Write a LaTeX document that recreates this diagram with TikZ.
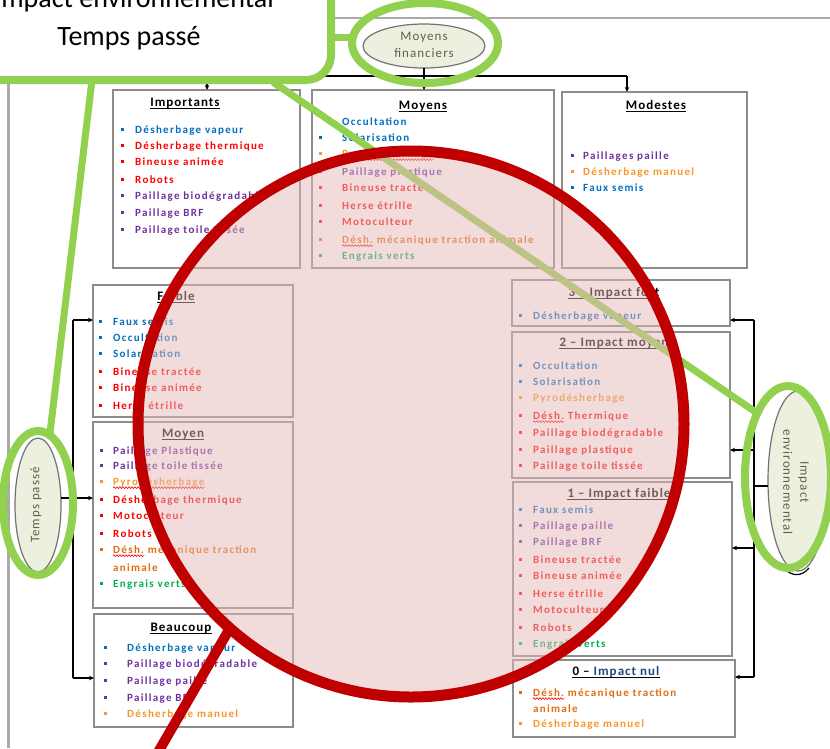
\documentclass[tikz,border=0pt]{standalone}
\usepackage{fontspec}
\setmainfont{Carlito}
\usetikzlibrary{arrows.meta,shapes.geometric,decorations.pathmorphing}
\definecolor{blueT}{RGB}{0,112,192}
\definecolor{redT}{RGB}{255,0,0}
\definecolor{purpleT}{RGB}{112,48,160}
\definecolor{orangeL}{RGB}{250,150,40}
\definecolor{orangeD}{RGB}{228,108,10}
\definecolor{greenT}{RGB}{0,176,80}
\definecolor{boxgray}{RGB}{140,140,140}
\definecolor{framegray}{RGB}{170,170,170}
\definecolor{annogreen}{RGB}{146,208,80}
\definecolor{annored}{RGB}{192,0,0}
\definecolor{pinkF}{RGB}{229,185,185}
\definecolor{ellfill}{RGB}{235,241,222}
\definecolor{elltext}{RGB}{95,95,80}
\definecolor{titleBlue}{RGB}{31,73,125}
\newfontfamily\itmface[LetterSpace=12]{Carlito}
\newfontfamily\ttlface[LetterSpace=8]{Carlito}
\newfontfamily\ellface[LetterSpace=8]{Carlito}
\newcommand\itmfont{\itmface\fontsize{11}{13}\selectfont\bfseries}
\newcommand\ttlfont{\ttlface\fontsize{13}{15}\selectfont\bfseries}
\newcommand\ellfont{\ellface\fontsize{13}{17}\selectfont}
\newcommand\Itm[6]{\fill[#5] ({#2-1.5},{#4-1.5}) rectangle ({#2+1.5},{#4+1.5});
  \node[itm,text=#5] (#1) at (#3,{#4+4}) {#6};}
\newcommand\ItmNB[5]{\node[itm,text=#4] (#1) at (#2,{#3+4}) {#5};}
\newcommand\Rest[3]{\node[itm,text=#2,xshift=3.3pt] (#1r) at (#1.base east) {#3};}
\newcommand\Wave[1]{\draw[wavy] ([yshift=-2.6pt]#1.base west) -- ([yshift=-2.6pt]#1.base east);}
\newcommand\Ttl[4]{\node[ttl] (#1) at (#2,#3) {#4};
  \draw[line width=1.1pt] ([yshift=-2.2pt]#1.base west) -- ([yshift=-2.2pt]#1.base east);}
\tikzset{
  docbox/.style={draw=boxgray, line width=1.4pt, inner sep=0pt, outer sep=0pt},
  itm/.style={anchor=base west, inner sep=0pt, font=\itmfont},
  ttl/.style={anchor=base, inner sep=0pt, font=\ttlfont, text=black},
  wavy/.style={draw=red, line width=0.6pt, decorate, decoration={snake, amplitude=0.9pt, segment length=3pt}},
  conn/.style={draw=black, line width=1.1pt},
  arr/.style={conn, -{Stealth[length=5pt,width=4.5pt]}},
  grayell/.style={ellipse, draw=black!55, line width=1.2pt, fill=ellfill, inner sep=0pt, outer sep=0pt},
  elltxt/.style={font=\ellfont, text=elltext, align=center, inner sep=0pt},
  greenline/.style={draw=annogreen, line width=7pt},
  greenring/.style={draw=annogreen, line width=8pt},
}
\begin{document}
\begin{tikzpicture}[x=1pt,y=-1pt]
\useasboundingbox (0,0) rectangle (830,748);
\clip (0,0) rectangle (830,748);
\fill[white] (0,0) rectangle (830,748);
% page frame
\draw[framegray, line width=1.5pt] (333,18) -- (830,18);
\draw[framegray, line width=3pt] (8,84) -- (8,748);
% boxes
\node[docbox, minimum width=187pt, minimum height=178pt] (bImp) at (206.5,179) {};
\node[docbox, minimum width=242pt, minimum height=178pt] (bMoy) at (433,179) {};
\node[docbox, minimum width=185pt, minimum height=176pt] (bMod) at (654.5,180) {};
\node[docbox, minimum width=200pt, minimum height=132pt] (bFai) at (193,351) {};
\node[docbox, minimum width=200pt, minimum height=186pt] (bMyn) at (193,515) {};
\node[docbox, minimum width=199pt, minimum height=113pt] (bBea) at (193.5,670.5) {};
\node[docbox, minimum width=218pt, minimum height=46pt] (bR3) at (621,303) {};
\node[docbox, minimum width=218pt, minimum height=146pt] (bR2) at (621,405) {};
\node[docbox, minimum width=219pt, minimum height=174pt] (bR1) at (622.5,569) {};
\node[docbox, minimum width=222pt, minimum height=77pt] (bR0) at (624,698.5) {};
% titles
\Ttl{tImp}{185}{106.5}{Importants}
\Ttl{tMoy}{423}{109}{Moyens}
\Ttl{tMod}{656}{109}{Modestes}
\Ttl{tFai}{176}{300.5}{Faible}
\Ttl{tMyn}{183}{437.5}{Moyen}
\Ttl{tBea}{181}{631.5}{Beaucoup}
\Ttl{tR3}{614}{296.5}{3 – Impact fort}
\Ttl{tR2}{614}{346.5}{2 – Impact moyen}
\Ttl{tR1}{619}{497.5}{1 – Impact faible}
\Ttl{tR0}{616}{675.5}{0 – \textcolor{titleBlue}{Impact nul}}
% Importants
\Itm{i1}{122}{135}{129}{blueT}{Désherbage vapeur}
\Itm{i2}{122}{135}{145}{redT}{Désherbage thermique}
\Itm{i3}{122}{135}{161}{redT}{Bineuse animée}
\Itm{i4}{122}{135}{179}{redT}{Robots}
\Itm{i5}{122}{135}{195}{purpleT}{Paillage biodégradable}
\Itm{i6}{122}{135}{212}{purpleT}{Paillage BRF}
\Itm{i7}{122}{135}{229}{purpleT}{Paillage toile tissée}
% Moyens
\ItmNB{m1}{342}{121}{blueT}{Occultation}
\Itm{m2}{320}{342}{137}{blueT}{Solarisation}
\Itm{m3}{320}{342}{153}{orangeL}{Pyrodésherbage}\Wave{m3}
\Itm{m4}{320}{342}{171}{purpleT}{Paillage plastique}
\Itm{m5}{320}{342}{187}{redT}{Bineuse tractée}
\Itm{m6}{320}{342}{205}{redT}{Herse étrille}
\Itm{m7}{320}{342}{221}{redT}{Motoculteur}
\Itm{m8}{320}{342}{239}{orangeD}{Désh.}\Wave{m8}\Rest{m8}{orangeD}{mécanique traction animale}
\Itm{m9}{320}{342}{255}{greenT}{Engrais verts}
% Modestes
\Itm{d1}{572}{583}{155}{purpleT}{Paillages paille}
\Itm{d2}{572}{583}{171}{orangeL}{Désherbage manuel}
\Itm{d3}{572}{583}{187}{blueT}{Faux semis}
% Faible
\Itm{f1}{100}{113}{321}{blueT}{Faux semis}
\Itm{f2}{100}{113}{337}{blueT}{Occultation}
\Itm{f3}{100}{113}{353}{blueT}{Solarisation}
\Itm{f4}{100}{113}{371}{redT}{Bineuse tractée}
\Itm{f5}{100}{113}{387}{redT}{Bineuse animée}
\Itm{f6}{100}{113}{405}{redT}{Herse étrille}
% Moyen
\Itm{n1}{101}{113}{450}{purpleT}{Paillage Plastique}
\Itm{n2}{101}{113}{465}{purpleT}{Paillage toile tissée}
\Itm{n3}{101}{113}{481}{orangeL}{Pyrodésherbage}\Wave{n3}
\Itm{n4}{101}{113}{499}{redT}{Désherbage thermique}
\Itm{n5}{101}{113}{515}{redT}{Motoculteur}
\Itm{n6}{101}{113}{533}{redT}{Robots}
\Itm{n7}{101}{113}{549}{orangeD}{Désh.}\Wave{n7}\Rest{n7}{orangeD}{mécanique traction}
\ItmNB{n7b}{113}{567}{orangeD}{animale}
\Itm{n8}{101}{113}{583}{greenT}{Engrais verts}
% Beaucoup
\Itm{b1}{105}{127}{647}{blueT}{Désherbage vapeur}
\Itm{b2}{105}{127}{663}{purpleT}{Paillage biodégradable}
\Itm{b3}{105}{127}{680}{purpleT}{Paillage paille}
\Itm{b4}{105}{127}{697}{purpleT}{Paillage BRF}
\Itm{b5}{105}{127}{713}{orangeL}{Désherbage manuel}
% R3
\Itm{r31}{520}{533}{315}{blueT}{Désherbage vapeur}
% R2
\Itm{r21}{520}{533}{365}{blueT}{Occultation}
\Itm{r22}{520}{533}{381}{blueT}{Solarisation}
\Itm{r23}{520}{533}{397}{orangeL}{Pyrodésherbage}
\Itm{r24}{520}{533}{415}{redT}{Désh.}\Wave{r24}\Rest{r24}{redT}{Thermique}
\Itm{r25}{520}{533}{432}{redT}{Paillage biodégradable}
\Itm{r26}{520}{533}{449}{redT}{Paillage plastique}
\Itm{r27}{520}{533}{465}{redT}{Paillage toile tissée}
% R1
\Itm{r11}{520}{533}{509}{blueT}{Faux semis}
\Itm{r12}{520}{533}{525}{purpleT}{Paillage paille}
\Itm{r13}{520}{533}{541}{purpleT}{Paillage BRF}
\Itm{r14}{520}{533}{559}{redT}{Bineuse tractée}
\Itm{r15}{520}{533}{575}{redT}{Bineuse animée}
\Itm{r16}{520}{533}{593}{redT}{Herse étrille}
\Itm{r17}{520}{533}{609}{redT}{Motoculteur}
\Itm{r18}{520}{533}{627}{redT}{Robots}
\Itm{r19}{520}{533}{643}{greenT}{Engrais verts}
% R0
\Itm{r01}{520}{533}{692}{orangeD}{Désh.}\Wave{r01}\Rest{r01}{orangeD}{mécanique traction}
\ItmNB{r01b}{533}{708}{orangeD}{animale}
\Itm{r02}{520}{533}{723}{orangeL}{Désherbage manuel}
% gray ellipses of the document
\node[grayell, minimum width=122pt, minimum height=44pt] (eTop) at (424,46) {};
\node[elltxt] (eTopT) at (424,45) {Moyens\\financiers};
\node[grayell, minimum width=46pt, minimum height=134pt] (eLeft) at (38,505) {};
\node[elltxt, rotate=90] (eLeftT) at (36,505) {Temps passé};
\node[grayell, minimum width=60pt, minimum height=180pt] (eRight) at (798,481) {};
\node[elltxt, rotate=-90] (eRightT) at (796,482) {Impact\\environnemental};
\draw[black, line width=1.2pt] (784,567) .. controls (790,577) and (802,577) .. (809,568);
% connectors top
\coordinate (tJ) at (424,76);
\coordinate (tL) at (207,76);
\coordinate (tR) at (627,76);
\draw[conn] (eTop.south) -- (tJ);
\draw[conn] (tL) -- (tR);
\draw[arr] (tL) -- (tL |- bImp.north);
\draw[arr] (tJ) -- (tJ |- bMoy.north);
\draw[arr] (tR) -- (tR |- bMod.north);
% connectors left
\coordinate (lJ) at (73,498);
\coordinate (lT) at (73,320);
\coordinate (lB) at (73,678);
\draw[conn] (lJ -| eLeft.east) -- (lJ);
\draw[conn] (lT) -- (lB);
\draw[arr] (lT) -- (lT -| bFai.west);
\draw[arr] (lJ) -- (lJ -| bMyn.west);
\draw[arr] (lB) -- (lB -| bBea.west);
% connectors right
\coordinate (rJ) at (754,486);
\coordinate (rT) at (754,320);
\coordinate (r2) at (754,450);
\coordinate (r1) at (754,548);
\coordinate (rB) at (754,677);
\draw[conn] (rJ -| eRight.west) -- (rJ);
\draw[conn] (rT) -- (rB);
\draw[arr] (rT) -- (rT -| bR3.east);
\draw[arr] (r2) -- (r2 -| bR2.east);
\draw[arr] (r1) -- (r1 -| bR1.east);
\draw[arr] (rB) -- (rB -| bR0.east);
% annotation: green links
\coordinate (cA) at (92,80);
\coordinate (cB) at (273,82);
\coordinate (cC) at (331,37);
\coordinate (gL) at (50,433);
\coordinate (gR) at (757,413);
\coordinate (gT) at (353,37);
\draw[greenline] (cA) -- (gL);
\draw[greenline] (cB) -- (gR);
\draw[greenline] (cC) -- (gT);
% annotation: red circle
\draw[draw=annored, line width=11pt, fill=pinkF, fill opacity=0.5] (411,424) circle[radius=273pt];
\coordinate (rc) at (230,628);
\coordinate (rcEnd) at (157,754);
\draw[annored, line width=10pt] (rc) -- (rcEnd);
% annotation: green rings
\draw[greenring] (425,43) ellipse[x radius=73pt, y radius=40pt];
\draw[greenring] (38,503) ellipse[x radius=35pt, y radius=72pt];
\draw[greenring] (788,477) ellipse[x radius=43pt, y radius=91pt];
% annotation: callout
\draw[greenring, fill=white, rounded corners=25pt] (-40,-40) rectangle (331,80);
\node[anchor=base, inner sep=0pt, font=\fontsize{28}{34}\selectfont] (cT1) at (134,7) {Impact environnemental};
\node[anchor=base, inner sep=0pt, font=\fontsize{28}{34}\selectfont] (cT2) at (129,45) {Temps passé};
\end{tikzpicture}
\end{document}
